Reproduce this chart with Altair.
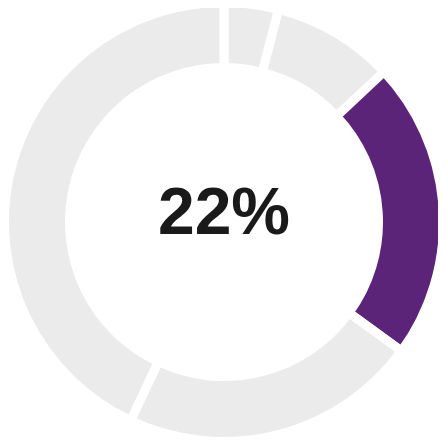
import altair as alt
import pandas as pd

segments = ["A", "B", "C", "D", "E"]
values = [4, 9, 22, 22, 43]
highlight = "C"
colors = ["#EBEBEB", "#EBEBEB", "#5B2479", "#EBEBEB", "#EBEBEB"]

df = pd.DataFrame({"segment": segments, "value": values, "order": list(range(len(segments)))})
label_df = pd.DataFrame({"label": [f"{values[segments.index(highlight)]}%"]})

arcs = alt.Chart(df).mark_arc(
    outerRadius=219.5, innerRadius=154.5, stroke="white", strokeWidth=9
).encode(
    theta=alt.Theta("value:Q", stack=True),
    color=alt.Color("segment:N", scale=alt.Scale(domain=segments, range=colors), legend=None),
    order=alt.Order("order:Q"),
    x=alt.value(216),
    y=alt.value(214),
)

text = alt.Chart(label_df).mark_text(
    font="Liberation Sans", fontSize=66, fontWeight="bold", color="#1A1A1A",
    baseline="middle", align="center"
).encode(text="label:N", x=alt.value(216), y=alt.value(206))

chart = (arcs + text).properties(
    width=430, height=430, padding=0, autosize=alt.AutoSizeParams(type="none")
).configure_view(stroke=None)

chart.save("out.html", embed_options={"renderer": "svg", "actions": False})
